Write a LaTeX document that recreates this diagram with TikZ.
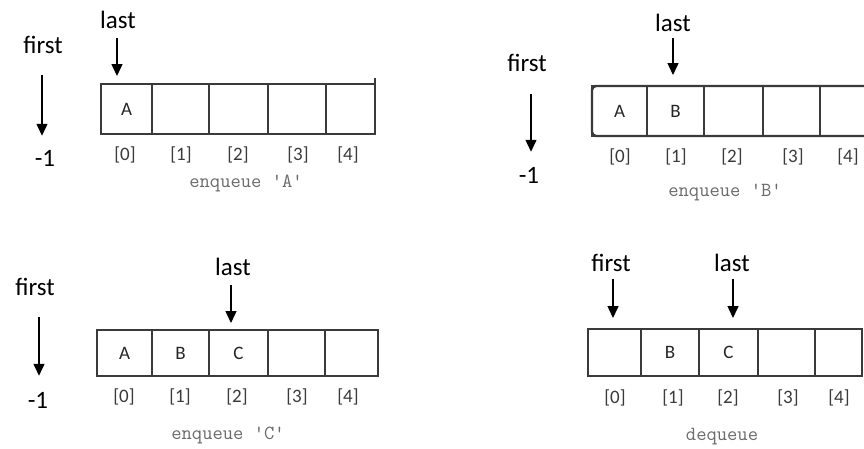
\documentclass[tikz,border=0pt]{standalone}
\usepackage{fontspec}
\setmainfont{Carlito}
\usetikzlibrary{arrows.meta}
\definecolor{linec}{HTML}{3A3A3A}
\definecolor{idxc}{HTML}{3A3A3A}
\definecolor{capc}{HTML}{6A6A6A}
\tikzset{
  lbl/.style={font=\fontsize{25}{25}\selectfont, text=black, inner sep=0pt},
  celltxt/.style={font=\fontsize{19}{19}\selectfont, text=black!85},
  idx/.style={font=\fontsize{19}{19}\selectfont, text=idxc, inner sep=0pt},
  captxt/.style={font=\ttfamily\fontsize{20}{20}\selectfont, text=capc, inner sep=0pt},
  arr/.style={-{Triangle[length=12pt,width=11pt]}, line width=1.4pt, draw=black},
  cell/.style={draw=linec, line width=1.4pt, inner sep=0pt, outer sep=0pt, celltxt},
  outerbox/.style={draw=linec, line width=2.4pt},
}
\begin{document}
\begin{tikzpicture}[x=1pt,y=-1pt]
\useasboundingbox (0,0) rectangle (864,448);
\clip (0,0) rectangle (864,448);
\fill[white] (0,0) rectangle (864,448);

% ---------- Panel 1: enqueue 'A'
\foreach \n/\a/\b/\t in {0/101/152/A,1/152/209/{},2/209/268/{},3/268/326/{},4/326/375/{}}
  \node[cell, minimum width=\b-\a, minimum height=50] (pa\n) at ({(\a+\b)/2},109) {\t};
\draw[outerbox] (pa0.north west) -- (pa4.north east) (pa0.south west) -- (pa4.south east);
\coordinate (pat) at (375,78);
\draw[linec, line width=1.4pt] (pa4.north east) -- (pat);
\node[lbl] (lastA) at (118,20) {last};
\coordinate (lastAe) at (117,76);
\draw[arr] ([yshift=-9pt]lastA.south -| lastAe) -- (lastAe);
\node[lbl] (firstA) at (43,45) {first};
\node[lbl] (mA) at (45,158) {-1};
\draw[arr] ([yshift=-21pt]firstA.south -| 42,0) -- ([yshift=14pt]mA.north -| 42,0);
\foreach \i/\x in {0/125,1/181,2/238,3/298,4/348}
  \node[idx] (ia\i) at (\x,155) {[\i]};
\node[captxt] (capA) at (246,183) {enqueue 'A'};

% ---------- Panel 2: enqueue 'B'
\foreach \n/\a/\b/\t in {0/592/647/A,1/647/704/B,2/704/763/{},3/763/820/{}}
  \node[cell, minimum width=\b-\a, minimum height=50] (pb\n) at ({(\a+\b)/2},111) {\t};
\coordinate (pbr1) at (870,86);
\coordinate (pbr2) at (870,136);
\draw[linec, line width=1.4pt] (pb3.north east) -- (pbr1) (pb3.south east) -- (pbr2);
\draw[outerbox, rounded corners=4pt] (pbr1) -- (pb0.north west) -- (pb0.south west) -- (pbr2);
\node[lbl] (lastB) at (673,23) {last};
\coordinate (lastBe) at (673,75);
\draw[arr] ([yshift=-6pt]lastB.south -| lastBe) -- (lastBe);
\node[lbl] (firstB) at (527,63) {first};
\node[lbl] (mB) at (529,175) {-1};
\draw[arr] ([yshift=-22pt]firstB.south -| 531,0) -- ([yshift=15pt]mB.north -| 531,0);
\foreach \i/\x in {0/620,1/676,2/732,3/793,4/848}
  \node[idx] (ib\i) at (\x,157) {[\i]};
\node[captxt] (capB) at (725,193) {enqueue 'B'};

% ---------- Panel 3: enqueue 'C'
\foreach \n/\a/\b/\t in {0/97/152/A,1/152/209/B,2/209/268/C,3/268/325/{},4/325/378/{}}
  \node[cell, minimum width=\b-\a, minimum height=46] (pc\n) at ({(\a+\b)/2},353) {\t};
\draw[outerbox] (pc0.north west) rectangle (pc4.south east);
\node[lbl] (lastC) at (233,267) {last};
\coordinate (lastCe) at (231,323);
\draw[arr] ([yshift=-9pt]lastC.south -| lastCe) -- (lastCe);
\node[lbl] (firstC) at (35,287) {first};
\node[lbl] (mC) at (38,400) {-1};
\draw[arr] ([yshift=-21pt]firstC.south -| 39,0) -- ([yshift=16pt]mC.north -| 39,0);
\foreach \i/\x in {0/124,1/180,2/237,3/297,4/348}
  \node[idx] (ic\i) at (\x,397) {[\i]};
\node[captxt] (capC) at (228,435) {enqueue 'C'};

% ---------- Panel 4: dequeue
\foreach \n/\a/\b/\t in {0/588/641/{},1/641/699/B,2/699/758/C,3/758/815/{},4/815/862/{}}
  \node[cell, minimum width=\b-\a, minimum height=47] (pd\n) at ({(\a+\b)/2},352.5) {\t};
\draw[linec, line width=1.4pt] (pd0.north west) -- (pd4.north east) (pd0.south west) -- (pd4.south east);
\draw[outerbox] (pd0.north west) -- (pd0.south west) (pd4.north east) -- (pd4.south east);
\node[lbl] (firstD) at (611,263) {first};
\coordinate (firstDe) at (613,318);
\draw[arr] ([yshift=-7pt]firstD.south -| firstDe) -- (firstDe);
\node[lbl] (lastD) at (732,263) {last};
\coordinate (lastDe) at (733,318);
\draw[arr] ([yshift=-7pt]lastD.south -| lastDe) -- (lastDe);
\foreach \i/\x in {0/615,1/673,2/728,3/788,4/839}
  \node[idx] (id\i) at (\x,398) {[\i]};
\node[captxt] (capD) at (722,437) {dequeue};
\end{tikzpicture}
\end{document}
